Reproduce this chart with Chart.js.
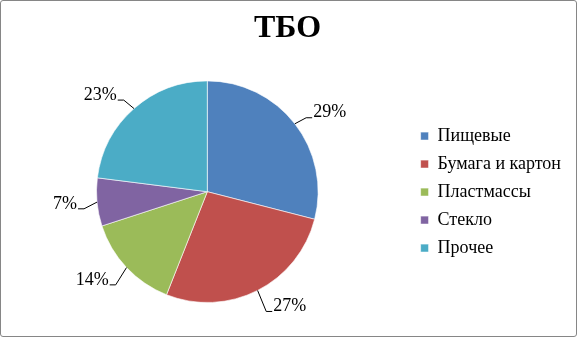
<!DOCTYPE html>
<html>
<head>
<meta charset="utf-8">
<script src="https://cdn.jsdelivr.net/npm/chart.js@4"></script>
<style>
  html, body { margin: 0; padding: 0; background: #fff; }
  #fundo { position: relative; width: 577px; height: 337px; }
  #moldura { position: absolute; left: 0; top: 0; width: 577px; height: 337px; box-sizing: border-box;
    border: 1px solid #868686; border-radius: 3px; pointer-events: none; }
  canvas { position: absolute; left: 0; top: 0; }
</style>
</head>
<body>
<div id="fundo">
  <canvas id="pieChart" width="577" height="337"></canvas>
  <div id="moldura"></div>
</div>
<script>
const categorias = ['Пищевые', 'Бумага и картон', 'Пластмассы', 'Стекло', 'Прочее'];
const percentuais = [29, 27, 14, 7, 23];
const cores = ['#4F81BD', '#C0504D', '#9BBB59', '#8064A2', '#4BACC6'];
const titulo = 'ТБО';

const fonte = '"Liberation Serif", "Times New Roman", serif';

// rótulos com linhas de chamada, estilo Excel
const rotulosPlugin = {
  id: 'rotulos',
  afterDatasetsDraw(chart) {
    const ctx = chart.ctx;
    const meta = chart.getDatasetMeta(0);
    ctx.save();
    ctx.font = '18px ' + fonte;
    ctx.fillStyle = '#000';
    ctx.strokeStyle = '#000';
    ctx.lineWidth = 1;
    ctx.textBaseline = 'middle';
    ctx.textAlign = 'center';
    meta.data.forEach((arco, i) => {
      const p = arco.getProps(['x', 'y', 'startAngle', 'endAngle', 'outerRadius'], true);
      const meio = (p.startAngle + p.endAngle) / 2;
      const cx = Math.cos(meio), cy = Math.sin(meio);
      const texto = percentuais[i] + '%';
      const w = ctx.measureText(texto).width;
      const lado = cx >= 0 ? 1 : -1;
      // ponto na borda da fatia
      const x0 = p.x + p.outerRadius * cx, y0 = p.y + p.outerRadius * cy;
      // centro do texto
      const tx = x0 + 8 * cx + lado * (w / 2 + 12);
      const ty = y0 + 18 * cy;
      const ax = tx - lado * (w / 2 + 1), ay = ty + 5;
      const ex = ax - lado * 6;
      ctx.beginPath();
      ctx.moveTo(x0, y0);
      ctx.lineTo(ex, ay);
      ctx.lineTo(ax, ay);
      ctx.stroke();
      ctx.fillText(texto, tx, ty);
    });
    ctx.restore();
  }
};

const ctx = document.getElementById('pieChart').getContext('2d');
new Chart(ctx, {
  type: 'pie',
  data: {
    labels: categorias,
    datasets: [{
      data: percentuais,
      backgroundColor: cores,
      borderColor: 'rgba(255,255,255,0.6)',
      borderWidth: 1
    }]
  },
  options: {
    responsive: false,
    animation: false,
    layout: { padding: { left: 4, right: 6, top: 0, bottom: 34 } },
    plugins: {
      title: {
        display: true,
        text: titulo,
        color: '#000',
        font: { family: fonte, size: 32, weight: 'bold' },
        padding: { top: 10, bottom: 32 }
      },
      legend: {
        position: 'right',
        title: {
          display: true,
          text: '',
          font: { size: 1 },
          padding: { top: 40, bottom: 40 }
        },
        labels: {
          color: '#000',
          font: { family: fonte, size: 18 },
          boxWidth: 8,
          boxHeight: 8,
          padding: 10
        }
      },
      tooltip: { enabled: false }
    }
  },
  plugins: [rotulosPlugin]
});
</script>
</body>
</html>
